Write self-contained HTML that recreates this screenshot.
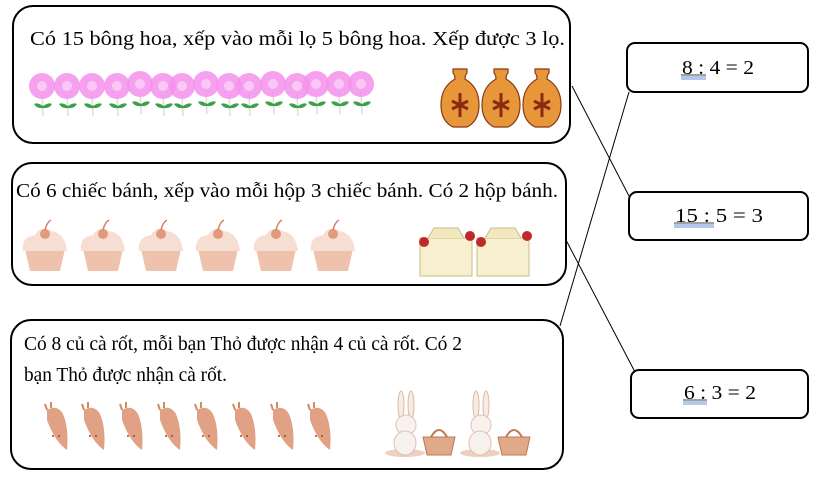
<!DOCTYPE html>
<html><head><meta charset="utf-8"><style>
html,body{margin:0;padding:0;background:#fff;}
svg{display:block;}
text{font-family:"Liberation Serif",serif;fill:#000;}
</style></head><body>
<svg width="829" height="477" viewBox="0 0 829 477" xmlns="http://www.w3.org/2000/svg">
<defs>
<g id="flower">
<line x1="0" y1="8" x2="1" y2="30" stroke="#ddd" stroke-width="1.5"/>
<path d="M1 20 q-6 -4 -9 -2 q3 5 9 4z" fill="#3da04a"/>
<path d="M1 20 q6 -4 9 -2 q-3 5 -9 4z" fill="#3da04a"/>
<circle cx="0" cy="0" r="13" fill="#f590ec" opacity="0.85"/>
<circle cx="0" cy="0" r="5" fill="#fbc8f6"/>
</g>
<g id="vase">
<path d="M-7 -28 h14 v4 q-2 2 -2 6 q14 8 14 26 q0 16 -12 22 h-14 q-12 -6 -12 -22 q0 -18 14 -26 q0 -4 -2 -6z" fill="#e7963a" stroke="#8a3a12" stroke-width="1.2"/>
<path d="M-8 4 l16 8 M-8 12 l16 -8 M0 -4 v24" stroke="#8a2a10" stroke-width="3"/>
</g>
<g id="cup">
<path d="M-20 4 h40 l-5 22 h-30z" fill="#eec2ad"/>
<path d="M-22 6 q-2 -14 12 -16 q6 -10 16 -4 q14 2 16 20z" fill="#f6ded2"/>
<circle cx="0" cy="-11" r="5" fill="#e29a7c"/>
<path d="M0 -15 q2 -8 6 -10" stroke="#d08060" stroke-width="1.5" fill="none"/>
</g>
<g id="box">
<path d="M0 10 h52 v38 h-52z" fill="#f7efcd" stroke="#c8bc8a"/>
<path d="M8 10 l6 -10 h24 l6 10" fill="#f2e8c0" stroke="#c8bc8a"/>
<circle cx="4" cy="14" r="5" fill="#c0282a"/>
<circle cx="50" cy="8" r="5" fill="#c0282a"/>
</g>
<g id="carrot">
<path d="M-8 -20 q10 -6 16 4 q6 14 4 36 q-12 -8 -20 -30z" fill="#e0a184"/>
<path d="M-8 -20 l-2 -6 M-4 -22 l0 -6" stroke="#d08a6a" stroke-width="2"/>
<circle cx="-2" cy="6" r="1" fill="#b04020"/><circle cx="4" cy="6" r="1" fill="#b04020"/>
</g>
<g id="rabbit">
<ellipse cx="0" cy="28" rx="20" ry="4" fill="#eed0c0"/>
<ellipse cx="-4" cy="-20" rx="3" ry="14" fill="#f6ece6" stroke="#e0b8a0"/>
<ellipse cx="6" cy="-20" rx="3" ry="14" fill="#f6ece6" stroke="#e0b8a0"/>
<circle cx="1" cy="0" r="10" fill="#f8f2ee" stroke="#e0c0b0"/>
<ellipse cx="0" cy="18" rx="11" ry="12" fill="#f8f2ee" stroke="#e0c0b0"/>
<path d="M18 12 h32 l-4 18 h-24z" fill="#e0aa8a" stroke="#c07850"/>
<path d="M26 12 q8 -14 16 0" fill="none" stroke="#c07850" stroke-width="2"/>
</g>
</defs>

<rect x="13" y="6" width="557" height="137" rx="20" fill="#fff" stroke="#000" stroke-width="2"/>
<rect x="12" y="163" width="554" height="122" rx="20" fill="#fff" stroke="#000" stroke-width="2"/>
<rect x="11" y="320" width="552" height="149" rx="20" fill="#fff" stroke="#000" stroke-width="2"/>

<rect x="627" y="43" width="181" height="49" rx="8" fill="#fff" stroke="#000" stroke-width="2"/>
<rect x="629" y="192" width="179" height="48" rx="8" fill="#fff" stroke="#000" stroke-width="2"/>
<rect x="631" y="370" width="177" height="48" rx="8" fill="#fff" stroke="#000" stroke-width="2"/>

<line x1="572" y1="86" x2="629" y2="196" stroke="#000" stroke-width="1"/>
<line x1="629" y1="92" x2="560" y2="326" stroke="#000" stroke-width="1"/>
<line x1="566" y1="240" x2="635" y2="372" stroke="#000" stroke-width="1"/>

<text x="30" y="45" font-size="20" textLength="535" lengthAdjust="spacingAndGlyphs">Có 15 bông hoa, xếp vào mỗi lọ 5 bông hoa. Xếp được 3 lọ.</text>
<text x="16" y="197" font-size="20" textLength="542" lengthAdjust="spacingAndGlyphs">Có 6 chiếc bánh, xếp vào mỗi hộp 3 chiếc bánh. Có 2 hộp bánh.</text>
<text x="24" y="350" font-size="19.5" textLength="438" lengthAdjust="spacingAndGlyphs">Có 8 củ cà rốt, mỗi bạn Thỏ được nhận 4 củ cà rốt. Có 2</text>
<text x="24" y="381" font-size="19.5" textLength="203" lengthAdjust="spacingAndGlyphs">bạn Thỏ được nhận cà rốt.</text>

<text x="682" y="74" font-size="20" textLength="72" lengthAdjust="spacingAndGlyphs">8 : 4 = 2</text>
<line x1="681" y1="75" x2="706" y2="75" stroke="#000" stroke-width="0.8"/>
<line x1="681" y1="77" x2="706" y2="77" stroke="#6a8fd8" stroke-width="1"/><line x1="681" y1="79" x2="706" y2="79" stroke="#6a8fd8" stroke-width="1"/>
<text x="675" y="222" font-size="20" textLength="88" lengthAdjust="spacingAndGlyphs">15  : 5 = 3</text>
<line x1="674" y1="223" x2="714" y2="223" stroke="#000" stroke-width="0.8"/>
<line x1="674" y1="225" x2="714" y2="225" stroke="#6a8fd8"/><line x1="674" y1="227" x2="714" y2="227" stroke="#6a8fd8"/>
<text x="684" y="399" font-size="20" textLength="72" lengthAdjust="spacingAndGlyphs">6 : 3 = 2</text>
<line x1="683" y1="400" x2="707" y2="400" stroke="#000" stroke-width="0.8"/>
<line x1="683" y1="402" x2="707" y2="402" stroke="#6a8fd8"/><line x1="683" y1="404" x2="707" y2="404" stroke="#6a8fd8"/>

<use href="#flower" x="42" y="86"/><use href="#flower" x="67" y="86"/><use href="#flower" x="92" y="86"/>
<use href="#flower" x="117" y="86"/><use href="#flower" x="140" y="84"/><use href="#flower" x="163" y="86"/>
<use href="#flower" x="182" y="86"/><use href="#flower" x="206" y="84"/><use href="#flower" x="229" y="86"/>
<use href="#flower" x="249" y="86"/><use href="#flower" x="273" y="84"/><use href="#flower" x="297" y="86"/>
<use href="#flower" x="316" y="84"/><use href="#flower" x="339" y="84"/><use href="#flower" x="361" y="84"/>
<use href="#vase" x="460" y="97"/><use href="#vase" x="501" y="97"/><use href="#vase" x="542" y="97"/>
<use href="#cup" x="45" y="245"/><use href="#cup" x="103" y="245"/><use href="#cup" x="161" y="245"/>
<use href="#cup" x="218" y="245"/><use href="#cup" x="276" y="245"/><use href="#cup" x="333" y="245"/>
<use href="#box" x="420" y="228"/><use href="#box" x="477" y="228"/>
<use href="#carrot" x="55" y="430"/><use href="#carrot" x="92" y="430"/><use href="#carrot" x="130" y="430"/>
<use href="#carrot" x="168" y="430"/><use href="#carrot" x="205" y="430"/><use href="#carrot" x="243" y="430"/>
<use href="#carrot" x="281" y="430"/><use href="#carrot" x="318" y="430"/>
<use href="#rabbit" x="405" y="425"/><use href="#rabbit" x="480" y="425"/>
</svg>
</body></html>
